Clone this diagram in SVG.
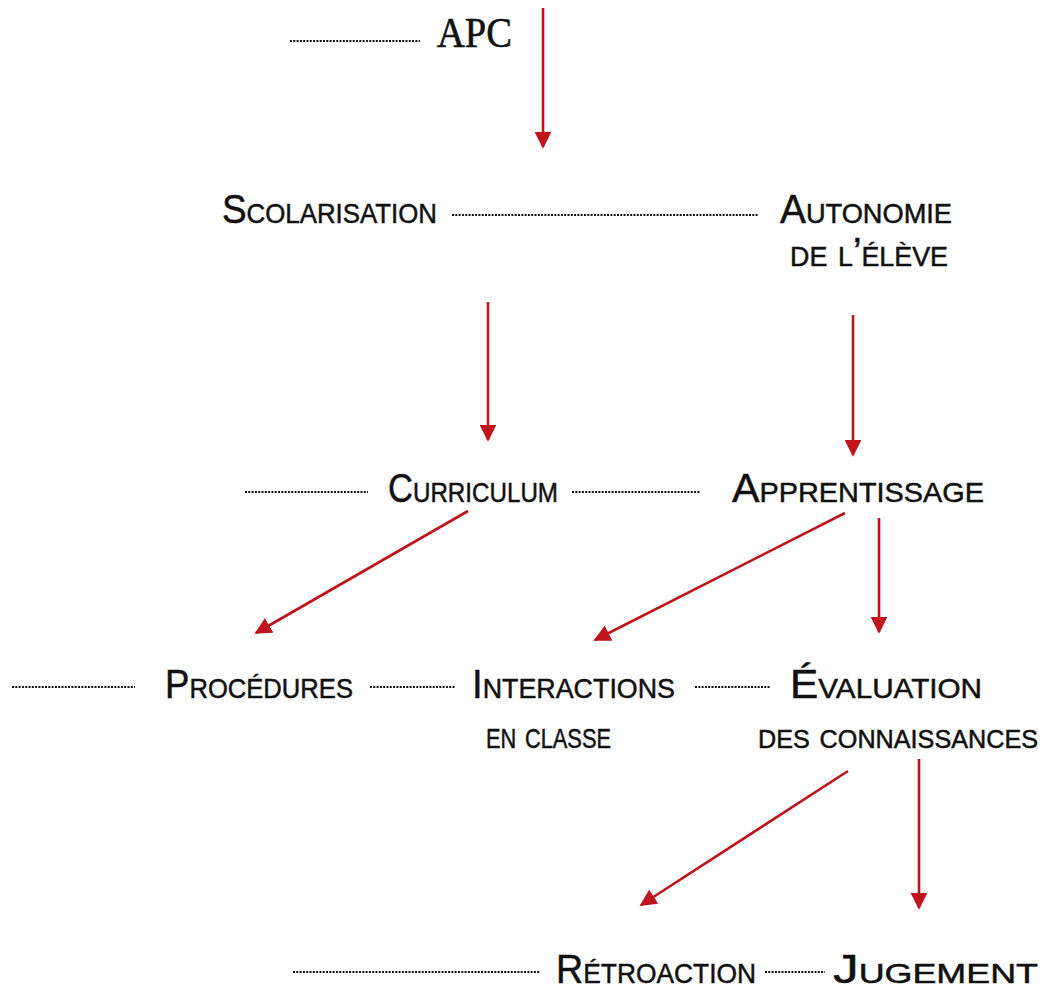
<svg xmlns="http://www.w3.org/2000/svg" width="1055" height="1003" viewBox="0 0 1055 1003">
<style>
.t{font-family:"Liberation Sans","DejaVu Sans",sans-serif;font-size:40px;font-variant:small-caps;fill:#111;stroke:#111;stroke-width:0.5}
.s{font-size:35px}
.apc{font-family:"Liberation Serif","DejaVu Serif",serif;font-size:42px;fill:#111;stroke:#111;stroke-width:0.6}
.dot{stroke:#111;stroke-width:2.2;stroke-dasharray:2 1.3;fill:none}
.arr{stroke:#c0141c;stroke-width:2.6;fill:none;marker-end:url(#ah)}
</style>
<defs>
<marker id="ah" viewBox="0 0 10 10" refX="9" refY="5" markerWidth="6.5" markerHeight="6.5" orient="auto" markerUnits="strokeWidth">
<path d="M0,0 L10,5 L0,10 z" fill="#c0141c"/>
</marker>
</defs>
<rect width="1055" height="1003" fill="#fff"/>
<g id="connectors">
<line class="arr" x1="543" y1="8" x2="543" y2="147"/>
<line class="arr" x1="488" y1="302" x2="488" y2="440"/>
<line class="arr" x1="853" y1="315" x2="853" y2="455"/>
<line class="arr" x1="468" y1="511" x2="256" y2="633"/>
<line class="arr" x1="845" y1="513" x2="595" y2="640"/>
<line class="arr" x1="879" y1="518" x2="879" y2="632"/>
<line class="arr" x1="848" y1="771" x2="641" y2="905"/>
<line class="arr" x1="919" y1="759" x2="919" y2="908"/>
</g>
<g id="dots">
<line class="dot" x1="290" y1="41" x2="420" y2="41"/>
<line class="dot" x1="452" y1="215" x2="758" y2="215"/>
<line class="dot" x1="245" y1="492" x2="368" y2="492"/>
<line class="dot" x1="572" y1="492" x2="700" y2="492"/>
<line class="dot" x1="12" y1="687" x2="135" y2="687"/>
<line class="dot" x1="370" y1="687" x2="455" y2="687"/>
<line class="dot" x1="695" y1="687" x2="770" y2="687"/>
<line class="dot" x1="293" y1="972" x2="540" y2="972"/>
<line class="dot" x1="765" y1="972" x2="825" y2="972"/>
</g>
<g id="n-apc"><text class="apc" x="437" y="47" textLength="75" lengthAdjust="spacingAndGlyphs">APC</text></g>
<g id="n-scolarisation"><text class="t" x="222" y="223" textLength="215" lengthAdjust="spacingAndGlyphs">Scolarisation</text></g>
<g id="n-autonomie"><text class="t" x="780" y="223" textLength="172" lengthAdjust="spacingAndGlyphs">Autonomie</text>
<text class="t" x="790" y="266" textLength="158" lengthAdjust="spacingAndGlyphs">de l’élève</text></g>
<g id="n-curriculum"><text class="t" x="388" y="502" textLength="170" lengthAdjust="spacingAndGlyphs">Curriculum</text></g>
<g id="n-apprentissage"><text class="t" x="732" y="502" textLength="252" lengthAdjust="spacingAndGlyphs">Apprentissage</text></g>
<g id="n-procedures"><text class="t" x="165" y="698" textLength="188" lengthAdjust="spacingAndGlyphs">Procédures</text></g>
<g id="n-interactions"><text class="t" x="472" y="698" textLength="203" lengthAdjust="spacingAndGlyphs">Interactions</text>
<text class="t" x="486" y="748" textLength="125" lengthAdjust="spacingAndGlyphs">en classe</text></g>
<g id="n-evaluation"><text class="t" x="790" y="698" textLength="192" lengthAdjust="spacingAndGlyphs">Évaluation</text>
<text class="t s" x="758" y="748" textLength="280" lengthAdjust="spacingAndGlyphs">des connaissances</text></g>
<g id="n-retroaction"><text class="t" x="556" y="983" textLength="200" lengthAdjust="spacingAndGlyphs">Rétroaction</text></g>
<g id="n-jugement"><text class="t" x="833" y="983" textLength="205" lengthAdjust="spacingAndGlyphs">Jugement</text></g>
</svg>
